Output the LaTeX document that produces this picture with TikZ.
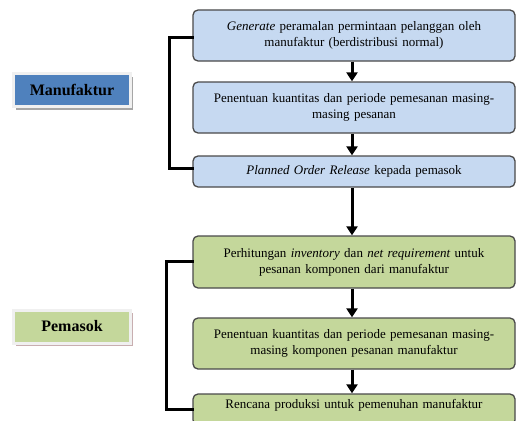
\documentclass[tikz,border=0pt]{standalone}
\usepackage{fontspec}
\setmainfont{Liberation Serif}
\usetikzlibrary{arrows.meta,shadows}

\definecolor{biruMuda}{HTML}{C6D9F1}
\definecolor{biruTua}{HTML}{4F81BD}
\definecolor{hijau}{HTML}{C4D79B}
\definecolor{garis}{HTML}{4A4A4A}
\definecolor{bayangBiru}{HTML}{A6A6A6}
\definecolor{bayangHijau}{HTML}{C8AEB0}

\tikzset{
  proses/.style={draw=garis, line width=1.3pt, rounded corners=5pt,
    minimum width=322pt, text width=316pt, align=center, inner sep=0pt,
    font=\fontsize{13}{16}\selectfont},
  pihak/.style={draw=gray!12, line width=3pt, minimum width=117pt,
    minimum height=33pt, font=\fontsize{16}{18}\selectfont\bfseries},
  panah/.style={line width=3pt, -{Triangle[width=11pt,length=9pt]}},
  kurung/.style={line width=3pt, line cap=rect}
}

\begin{document}
\begin{tikzpicture}[x=1pt,y=-1pt]

  % batas gambar
  \clip (0,0) rectangle (516,420);
  \fill[white] (0,0) rectangle (516,420);

  % label pihak
  \node[pihak, fill=biruTua, drop shadow={shadow xshift=2pt, shadow yshift=-3pt, fill=bayangBiru, opacity=1}]
    (manuf) at (72,90) {Manufaktur};
  \node[pihak, fill=hijau, drop shadow={shadow xshift=2pt, shadow yshift=-3pt, fill=bayangHijau, opacity=1}]
    (pemasok) at (72,326.5) {Pemasok};

  % kotak manufaktur
  \node[proses, fill=biruMuda, minimum height=51pt] (m1) at (354,35.5)
    {\textit{Generate} peramalan permintaan pelanggan oleh\\manufaktur (berdistribusi normal)};
  \node[proses, fill=biruMuda, minimum height=51pt] (m2) at (354,107.5)
    {Penentuan kuantitas dan periode pemesanan masing-\\masing pesanan};
  \node[proses, fill=biruMuda, minimum height=31pt] (m3) at (354,171.5)
    {\textit{Planned Order Release} kepada pemasok};

  % kotak pemasok
  \node[proses, fill=hijau, minimum height=52pt] (p1) at (354,262)
    {Perhitungan \textit{inventory} dan \textit{net requirement} untuk\\pesanan komponen dari manufaktur};
  \node[proses, fill=hijau, minimum height=51pt] (p2) at (354,343.5)
    {Penentuan kuantitas dan periode pemesanan masing-\\masing komponen pesanan manufaktur};
  \node[proses, fill=hijau, minimum height=31pt, text depth=12pt] (p3) at (354,409.5)
    {Rencana produksi untuk pemenuhan manufaktur};

  % panah alur
  \draw[panah] ([xshift=-2pt]m1.south) -- ([xshift=-2pt]m2.north);
  \draw[panah] ([xshift=-2pt]m2.south) -- ([xshift=-2pt]m3.north);
  \draw[panah] ([xshift=-2pt]m3.south) -- ([xshift=-2pt]p1.north);
  \draw[panah] ([xshift=-2pt]p1.south) -- ([xshift=-2pt]p2.north);
  \draw[panah] ([xshift=-2pt]p2.south) -- ([xshift=-2pt]p3.north);

  % kurung kiri
  \draw[kurung] ([yshift=-2pt]m1.west) -- ++(-23,0) |- ([yshift=3pt]m3.west);
  \draw[kurung] ([yshift=1pt]p1.west) -- ++(-26,0) |- (p3.west);

\end{tikzpicture}
\end{document}
